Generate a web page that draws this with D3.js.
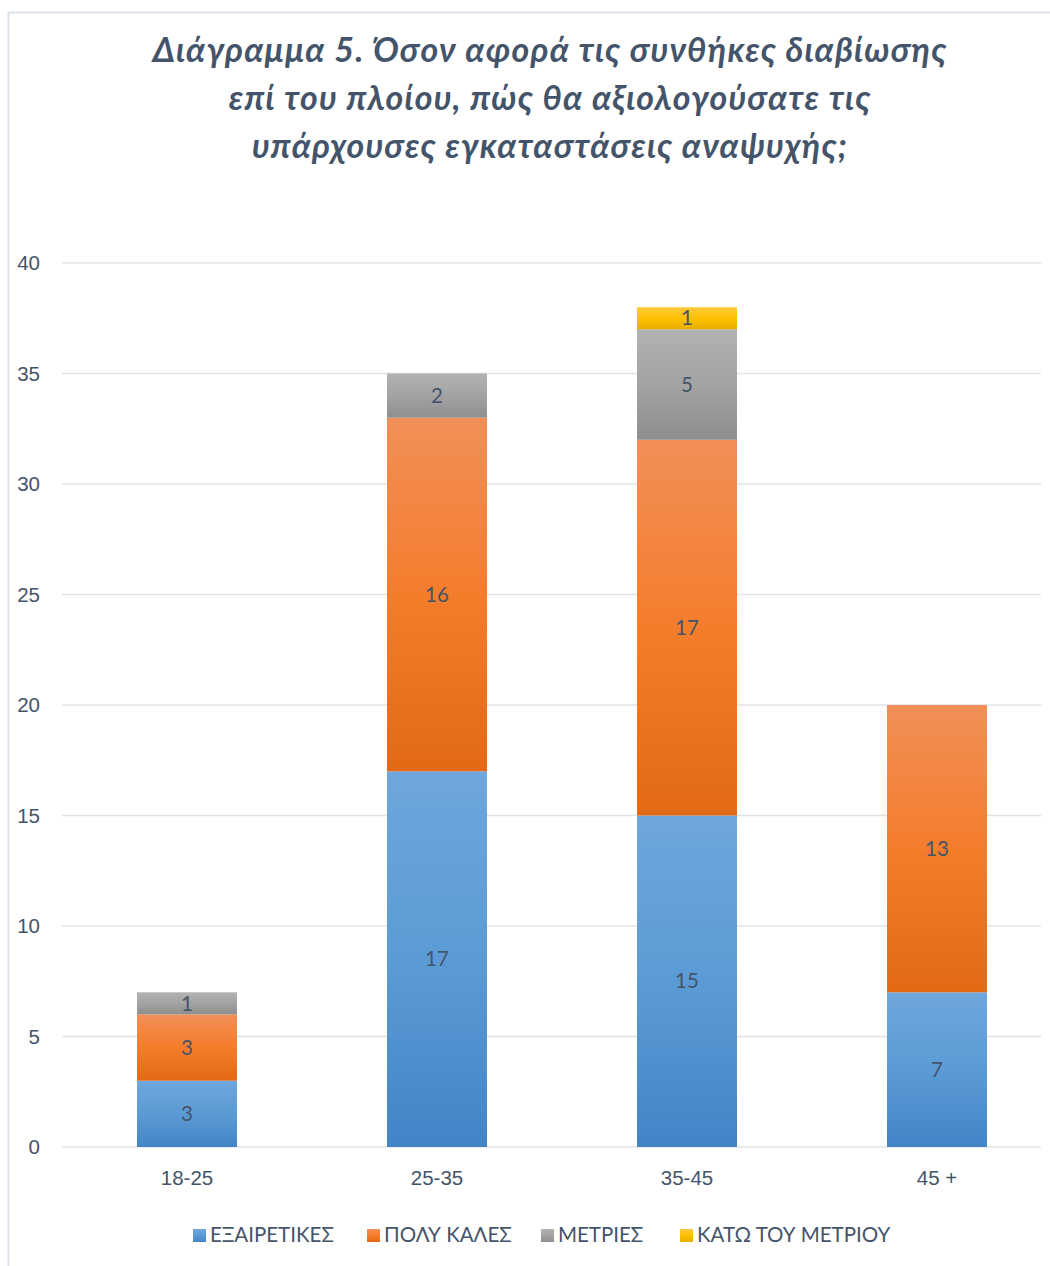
<!DOCTYPE html>
<html>
<head>
<meta charset="utf-8">
<script src="https://cdn.jsdelivr.net/npm/d3@7"></script>
<style>
  body { margin: 0; background: #fff; }
  svg { display: block; font-family: Lato, 'Open Sans', sans-serif; }
  .axis text { fill: #44546A; font-size: 20.5px; }
  .axis path, .axis line { display: none; }
</style>
</head>
<body>
<svg width="1050" height="1266"></svg>
<script>
const categories = ['18-25', '25-35', '35-45', '45 +'];
const seriesNames = ['ΕΞΑΙΡΕΤΙΚΕΣ', 'ΠΟΛΥ ΚΑΛΕΣ', 'ΜΕΤΡΙΕΣ', 'ΚΑΤΩ ΤΟΥ ΜΕΤΡΙΟΥ'];
const excellent = [3, 17, 15, 7];
const veryGood = [3, 16, 17, 13];
const moderate = [1, 2, 5, 0];
const belowModerate = [0, 0, 1, 0];
const yTicks = [0, 5, 10, 15, 20, 25, 30, 35, 40];
const titleLines = [
  'Διάγραμμα 5. Όσον αφορά τις συνθήκες διαβίωσης',
  'επί του πλοίου, πώς θα αξιολογούσατε τις',
  'υπάρχουσες εγκαταστάσεις αναψυχής;'
];

const colors = [
  ['#6fa6dd', '#5b9bd5', '#4384c7'],
  ['#f28f58', '#f47d2c', '#e26a15'],
  ['#b2b2b2', '#a3a3a3', '#8e8e8e'],
  ['#ffc93e', '#ffc000', '#e8ae00']
];

const margin = { top: 263, right: -12, bottom: 119, left: 62 };
const W = 1050, H = 1266;

const svg = d3.select('svg');

// frame
svg.append('rect')
  .attr('x', 8.5).attr('y', 12.5)
  .attr('width', 1100).attr('height', 1300)
  .attr('fill', 'none').attr('stroke', '#dde3ea').attr('stroke-width', 2);

const defs = svg.append('defs');
colors.forEach((c, i) => {
  const grad = defs.append('linearGradient')
    .attr('id', 'grad' + i)
    .attr('x1', 0).attr('y1', 0).attr('x2', 0).attr('y2', 1);
  grad.append('stop').attr('offset', '0%').attr('stop-color', c[0]);
  grad.append('stop').attr('offset', '50%').attr('stop-color', c[1]);
  grad.append('stop').attr('offset', '100%').attr('stop-color', c[2]);
});

const title = svg.append('text')
  .attr('text-anchor', 'middle')
  .attr('fill', '#44546A')
  .style('font-size', '34px')
  .style('letter-spacing', '1.2px')
  .style('font-weight', 'bold')
  .style('font-style', 'italic');
titleLines.forEach((t, i) => {
  title.append('tspan').attr('x', 550).attr('y', 62 + i * 48).text(t);
});

const x = d3.scaleBand()
  .domain(categories)
  .range([margin.left, W - margin.right])
  .paddingInner(0.6)
  .paddingOuter(0.3);

const y = d3.scaleLinear()
  .domain([0, 40])
  .range([H - margin.bottom, margin.top]);

// gridlines
svg.append('g')
  .selectAll('line')
  .data(yTicks)
  .join('line')
  .attr('x1', margin.left).attr('x2', 1041)
  .attr('y1', d => y(d)).attr('y2', d => y(d))
  .attr('stroke', '#dfe3e8').attr('stroke-width', 1.5);

svg.append('g')
  .attr('class', 'axis')
  .attr('transform', `translate(${margin.left - 22},0)`)
  .call(d3.axisLeft(y).tickValues(yTicks).tickSize(0).tickPadding(0));

svg.append('g')
  .attr('class', 'axis')
  .attr('transform', `translate(0,${H - margin.bottom + 14})`)
  .call(d3.axisBottom(x).tickSize(0).tickPadding(9));

const table = categories.map((c, i) => ({
  cat: c,
  [seriesNames[0]]: excellent[i],
  [seriesNames[1]]: veryGood[i],
  [seriesNames[2]]: moderate[i],
  [seriesNames[3]]: belowModerate[i]
}));

const stacked = d3.stack().keys(seriesNames)(table);

const layers = svg.append('g')
  .selectAll('g')
  .data(stacked)
  .join('g')
  .attr('fill', (d, i) => `url(#grad${i})`);

layers.selectAll('rect')
  .data(d => d.filter(p => p[1] - p[0] > 0))
  .join('rect')
  .attr('x', d => x(d.data.cat))
  .attr('width', x.bandwidth())
  .attr('y', d => y(d[1]))
  .attr('height', d => y(d[0]) - y(d[1]));

layers.selectAll('text')
  .data(d => d.filter(p => p[1] - p[0] > 0))
  .join('text')
  .attr('x', d => x(d.data.cat) + x.bandwidth() / 2)
  .attr('y', d => (y(d[0]) + y(d[1])) / 2)
  .attr('dy', '0.35em')
  .attr('text-anchor', 'middle')
  .attr('fill', '#44546A')
  .style('font-size', '20.5px')
  .text(d => d[1] - d[0]);

// legend
const legendX = [193, 367, 541, 680];
const legend = svg.append('g')
  .selectAll('g')
  .data(seriesNames)
  .join('g')
  .attr('transform', (d, i) => `translate(${legendX[i]},1235)`);

legend.append('rect')
  .attr('x', 0).attr('y', -6)
  .attr('width', 13).attr('height', 13)
  .attr('fill', (d, i) => `url(#grad${i})`);

legend.append('text')
  .attr('x', 17).attr('dy', '0.35em')
  .attr('fill', '#44546A')
  .style('font-size', '20.5px')
  .text(d => d);
</script>
</body>
</html>
